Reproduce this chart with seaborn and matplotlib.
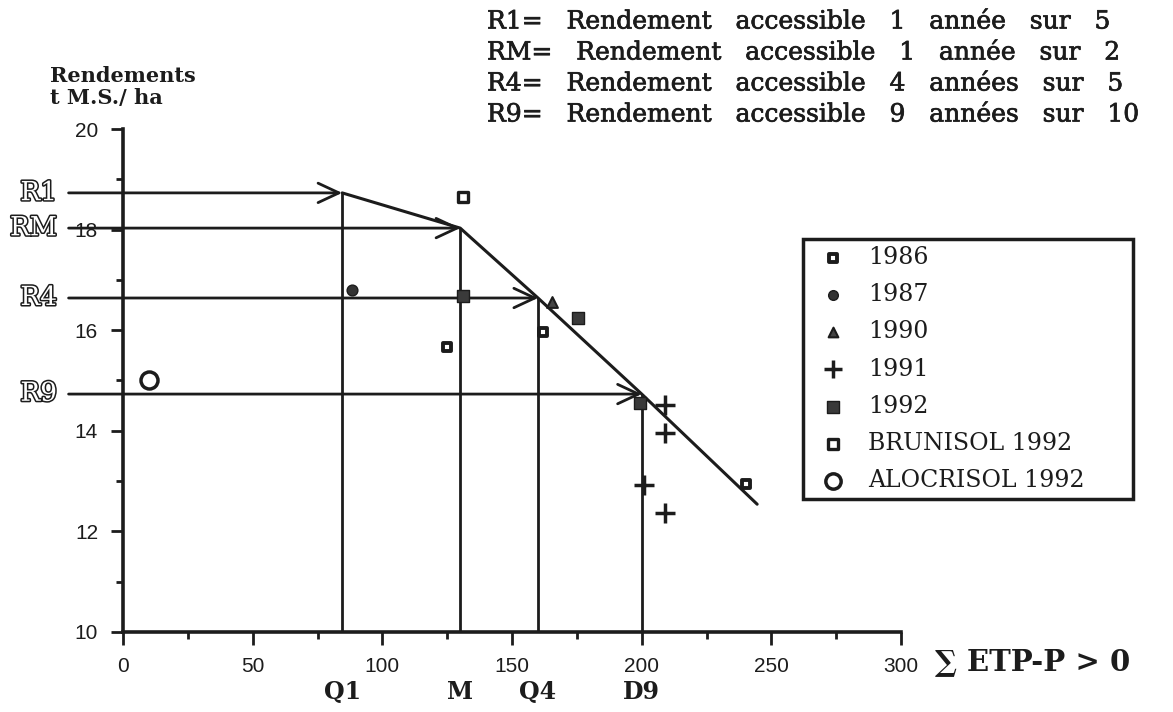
import seaborn as sns
import matplotlib.pyplot as plt
import matplotlib.patheffects as pe

# --- data ---
trend_x = [84.5, 130, 160, 200, 244.5]
trend_y = [18.73, 18.03, 16.64, 14.73, 12.54]

q_labels = ['Q1', 'M', 'Q4', 'D9']
q_x = [84.5, 130, 160, 200]
r_labels = ['R1', 'RM', 'R4', 'R9']
r_y = [18.73, 18.03, 16.64, 14.73]

y1986_x = [124.8, 162.1, 240.1]
y1986_y = [15.66, 15.97, 12.95]
y1987_x = [88.4]
y1987_y = [16.79]
y1990_x = [165.3]
y1990_y = [16.57]
y1991_x = [209, 209, 200.7, 209]
y1991_y = [14.51, 13.95, 12.93, 12.37]
y1992_x = [131.0, 175.6, 199.4]
y1992_y = [16.67, 16.25, 14.55]
brunisol_x = [130.9]
brunisol_y = [18.65]
alocrisol_x = [10.0]
alocrisol_y = [15.0]

notes = [
    'R1=   Rendement   accessible   1   année   sur   5',
    'RM=   Rendement   accessible   1   année   sur   2',
    'R4=   Rendement   accessible   4   années   sur   5',
    'R9=   Rendement   accessible   9   années   sur   10',
]

ink = '#1c1c1c'

sns.set_style('ticks')
plt.rcParams['font.family'] = ['DejaVu Serif']

fig = plt.figure(figsize=(11.73, 7.12), dpi=100)
ax = fig.add_axes([0.1049, 0.1124, 0.6633, 0.7064])

# trend line
sns.lineplot(x=trend_x, y=trend_y, color=ink, lw=2.2, ax=ax, sort=False, zorder=3)

# arrows from y axis + vertical drops to x axis
for qx, ry in zip(q_x, r_y):
    ax.annotate('', xy=(qx, ry), xytext=(-21, ry), annotation_clip=False,
                arrowprops=dict(arrowstyle='->,head_length=0.75,head_width=0.35',
                                color=ink, lw=2.0, shrinkA=0, shrinkB=0,
                                mutation_scale=20))
    ax.vlines(qx, 10, ry, color=ink, lw=2.0, zorder=2)

# scatter series
sns.scatterplot(x=y1986_x, y=y1986_y, marker='s', s=36, color='white',
                edgecolor=ink, linewidth=2.8, label='1986', ax=ax, zorder=5)
sns.scatterplot(x=y1987_x, y=y1987_y, marker='o', s=60, color='#333333',
                edgecolor=ink, linewidth=1, label='1987', ax=ax, zorder=5)
sns.scatterplot(x=y1990_x, y=y1990_y, marker='^', s=60, color='#444444',
                edgecolor=ink, linewidth=1.5, label='1990', ax=ax, zorder=5)
sns.scatterplot(x=y1991_x, y=y1991_y, marker='+', s=220, color=ink,
                linewidth=2.5, label='1991', ax=ax, zorder=5)
sns.scatterplot(x=y1992_x, y=y1992_y, marker='s', s=85, color='#3a3a3a',
                edgecolor=ink, linewidth=1, label='1992', ax=ax, zorder=5)
sns.scatterplot(x=brunisol_x, y=brunisol_y, marker='s', s=60, color='white',
                edgecolor=ink, linewidth=2.4, label='BRUNISOL 1992', ax=ax, zorder=5)
sns.scatterplot(x=alocrisol_x, y=alocrisol_y, marker='o', s=150, color='white',
                edgecolor=ink, linewidth=2.5, label='ALOCRISOL 1992', ax=ax, zorder=5)

# axes styling
ax.set_xlim(0, 300)
ax.set_ylim(10, 20)
ax.set_xticks(range(0, 301, 50))
ax.set_xticks(range(25, 300, 50), minor=True)
ax.set_yticks(range(10, 21, 2))
ax.set_yticks(range(11, 20, 2), minor=True)
ax.set_xlabel('')
ax.set_ylabel('')
sns.despine(ax=ax)
for side in ['left', 'bottom']:
    ax.spines[side].set_linewidth(2.6)
    ax.spines[side].set_color(ink)
ax.tick_params(which='major', length=9, width=2, color=ink, direction='out')
ax.tick_params(which='minor', length=5, width=2, color=ink, direction='out')
ax.tick_params(axis='x', which='major', pad=9)
ax.tick_params(axis='y', which='major', pad=9)
for lab in ax.get_xticklabels() + ax.get_yticklabels():
    lab.set_fontfamily('Liberation Sans')
    lab.set_fontsize(15)
    lab.set_color(ink)

# outlined R labels on the left
for lab, ry in zip(r_labels, r_y):
    fig.text(57 / 1173, 1 - (129 + (20 - ry) * 50.15) / 712, lab, ha='right',
             va='center', fontsize=19, color='white',
             path_effects=[pe.withStroke(linewidth=2.2, foreground=ink)])

# quantile labels below the x axis
for lab, qx in zip(q_labels, q_x):
    ax.text(qx, -0.12, lab, transform=ax.get_xaxis_transform(), ha='center',
            va='center', fontsize=17, fontweight='bold', color=ink)

fig.text(935 / 1173, 1 - 662 / 712, '∑ ETP-P > 0', ha='left', va='center',
         fontsize=21, fontweight='bold', color=ink)
fig.text(50 / 1173, 1 - 87 / 712, 'Rendements\nt M.S./ ha', ha='left',
         va='center', fontsize=15, fontweight='bold', color=ink, linespacing=1.15)

for i, line in enumerate(notes):
    fig.text(487 / 1173, 1 - (22 + 31 * i) / 712, line, ha='left',
             va='center', fontsize=18, color=ink,
             path_effects=[pe.withStroke(linewidth=0.5, foreground=ink)])

leg = ax.legend(loc='upper left',
                bbox_to_anchor=(803 / 1173, 1 - 496 / 712, 330 / 1173, 257 / 712),
                bbox_transform=fig.transFigure, mode='expand', borderaxespad=0,
                fontsize=17, frameon=True, fancybox=False, framealpha=1,
                borderpad=0.3, labelspacing=0.6, handlelength=1.95,
                handletextpad=0.5, markerscale=0.9)
leg.get_frame().set_edgecolor(ink)
leg.get_frame().set_linewidth(2.5)
for t in leg.get_texts():
    t.set_color(ink)

fig.savefig('out.png', dpi=100)
